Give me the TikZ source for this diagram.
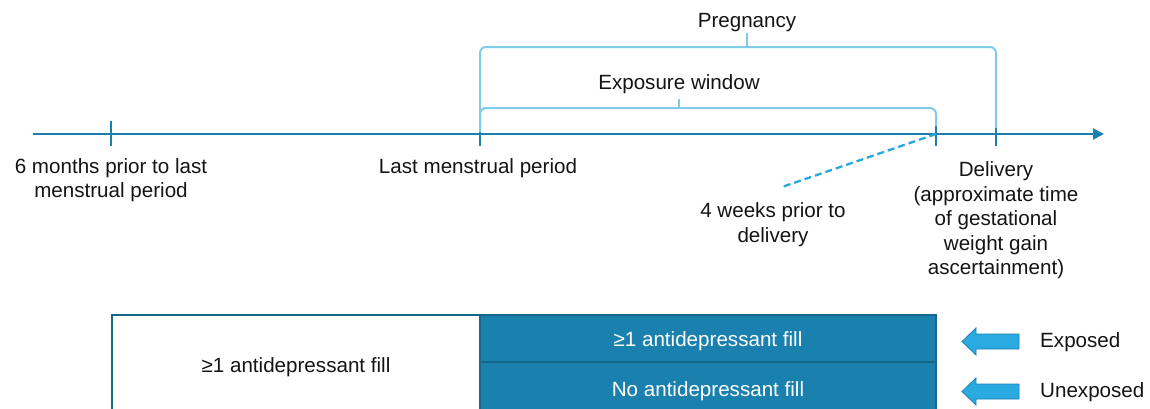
\documentclass[tikz,border=0pt]{standalone}
\usepackage{fontspec}
\setmainfont{Liberation Sans}
\usetikzlibrary{arrows.meta}
\definecolor{axis}{HTML}{1A7FAC}
\definecolor{brk}{HTML}{7FCCEA}
\definecolor{dash}{HTML}{29A8E0}
\definecolor{boxfill}{HTML}{1A80AD}
\definecolor{boxline}{HTML}{15678C}
\definecolor{arrfill}{HTML}{29ABE2}
\definecolor{arrline}{HTML}{1A7FAC}
\definecolor{txt}{HTML}{141414}
\tikzset{
  lbl/.style={font=\fontsize{20.6bp}{24.5bp}\selectfont, text=txt, align=center, inner sep=0pt},
  axisline/.style={draw=axis, line width=2bp},
  tickline/.style={draw=axis, line width=2bp},
  bracket/.style={draw=brk, line width=2bp, rounded corners=6bp},
  fillbox/.style={fill=boxfill, draw=boxline, line width=1.5bp},
  whitebox/.style={fill=white, draw=boxline, line width=1.5bp},
  blockarrow/.style={fill=arrfill, draw=arrline, line width=0.8bp, line join=miter},
  boxtxt/.style={font=\fontsize{20.6bp}{24.5bp}\selectfont, text=white, inner sep=0pt},
}
\begin{document}
\begin{tikzpicture}[x=1bp, y=-1bp]
\useasboundingbox (0,0) rectangle (1150,408);
\clip (0,0) rectangle (1150,408);
% timeline
\coordinate (tl0) at (33,134);
\coordinate (tl1) at (1104,134);
\coordinate (t1) at (111,134);
\coordinate (t2) at (480,134);
\coordinate (t3) at (936,134);
\coordinate (t4) at (996,134);
\draw[axisline, -{Triangle[length=11bp,width=11bp]}] (tl0) -- (tl1);
\foreach \c in {t1,t2,t3,t4} \draw[tickline] ([yshift=-12bp]\c) -- ([yshift=13bp]\c);
% brackets
\draw[bracket] (480,132) -- (480,47) -- (996,47) -- (996,128);
\draw[draw=brk, line width=2bp] (747,47) -- (747,33);
\draw[bracket] (480,132) -- (480,108) -- (936,108) -- (936,126);
\draw[draw=brk, line width=2bp] (679,108) -- (679,99);
\node[lbl] (preg) at (747,22.5) {Pregnancy};
\node[lbl] (expw) at (679,84.5) {Exposure window};
% labels
\node[lbl] (six) at (111,180) {6 months prior to last\\menstrual period};
\node[lbl] (lmp) at (478,168.5) {Last menstrual period};
\node[lbl] (del) at (996,220.5) {Delivery\\(approximate time\\of gestational\\weight gain\\ascertainment)};
\node[lbl] (fw) at (773,224.5) {4 weeks prior to\\delivery};
\coordinate (fwend) at (782,187);
\draw[draw=dash, line width=2.3bp, dash pattern=on 7bp off 4bp] (t3) -- (fwend);
% boxes
\draw[whitebox] (112,315) rectangle (480,420);
\node[lbl] (lb) at (296,367) {≥1 antidepressant fill};
\draw[fillbox] (480,315) rectangle (936,362);
\draw[fillbox] (480,362) rectangle (936,420);
\node[boxtxt] (ex) at (708,341) {≥1 antidepressant fill};
\node[boxtxt] (unex) at (708,391) {No antidepressant fill};
% block arrows
\foreach \yc/\nm in {341.5/Exposed,391.5/Unexposed}{
  \draw[blockarrow] (962,\yc) -- (976,\yc-13.5) -- (976,\yc-7.5) -- (1019,\yc-7.5) -- (1019,\yc+7.5) -- (976,\yc+7.5) -- (976,\yc+13.5) -- cycle;
  \node[lbl, anchor=west] at (1040,\yc+0.5) {\nm};
}
\end{tikzpicture}
\end{document}
